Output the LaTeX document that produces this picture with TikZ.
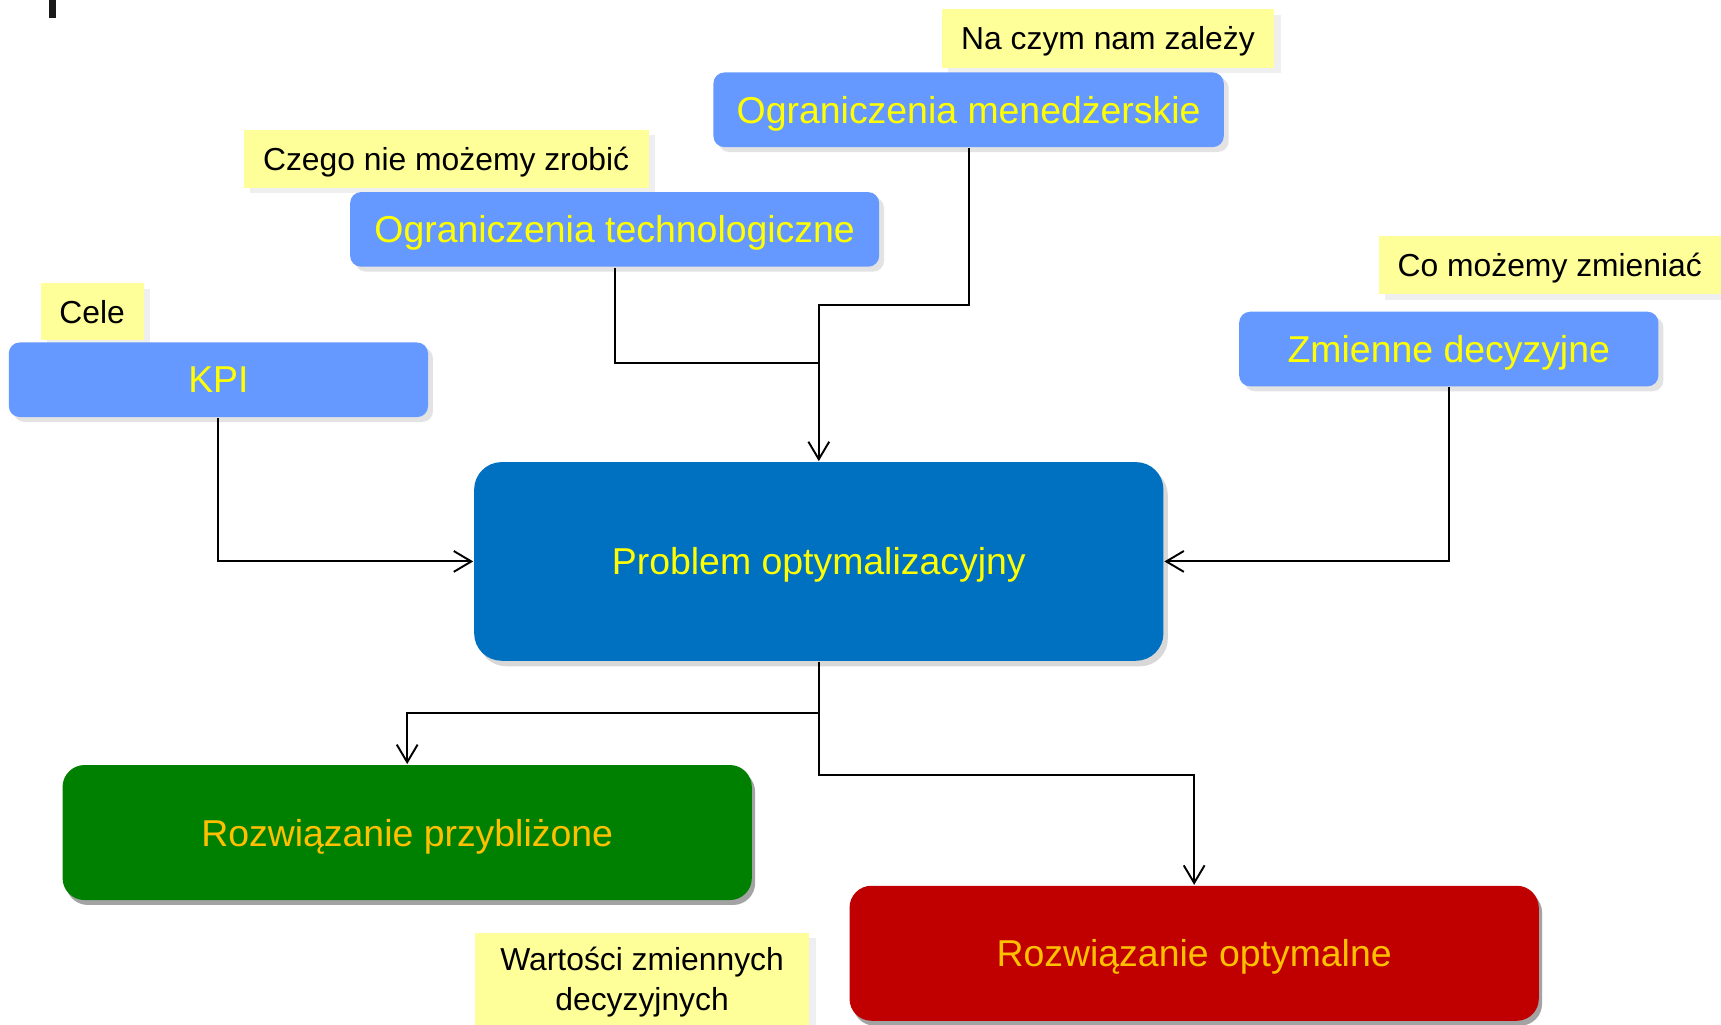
\documentclass[tikz,border=0pt]{standalone}
\usepackage{fontspec}
\setmainfont{Liberation Sans}
\usetikzlibrary{positioning, arrows.meta, shadows}

\definecolor{boxblue}{HTML}{6699FF}
\definecolor{probblue}{HTML}{0070C0}
\definecolor{okgreen}{HTML}{008000}
\definecolor{optred}{HTML}{C00000}
\definecolor{txtyellow}{HTML}{FFFF00}
\definecolor{txtorange}{HTML}{FFC000}
\definecolor{notebg}{HTML}{FFFF99}

\begin{document}
\begin{tikzpicture}[
  x=0.1mm, y=-0.1mm,
  font=\fontsize{9.7}{11.5}\selectfont,
  inbox/.style={rounded corners=1mm, fill=boxblue, text=txtyellow, minimum width=38.2mm, minimum height=6.8mm, inner sep=0pt, text depth=0pt,
    drop shadow={shadow xshift=0.45mm, shadow yshift=-0.45mm, opacity=0.22}},
  result/.style={rounded corners=2mm, text=txtorange, minimum width=62.8mm, minimum height=12.3mm, inner sep=0pt, text depth=0pt,
    drop shadow={shadow xshift=0.3mm, shadow yshift=-0.45mm, fill=black!45, opacity=0.8}},
  note/.style={fill=notebg, text=black, font=\fontsize{8.25}{10.3}\selectfont, inner sep=0pt, minimum height=5.3mm, align=center,
    drop shadow={shadow xshift=0.6mm, shadow yshift=-0.5mm, opacity=0.12}},
  arr/.style={-{Straight Barb[length=1.6mm, width=1.9mm]}},
  line width=0.5pt
]
\useasboundingbox (0,0) rectangle (1568,933);
\fill[white] (0,0) rectangle (1568,933);
\fill[black!90] (45,0) rectangle (51,16);

% Inputs
\node[note, text depth=0pt, minimum width=30.3mm] (zalezy) at (1009.5,35) {Na czym nam zależy};
\node[inbox, minimum width=46.5mm] (menedz) at (882.5,100) {Ograniczenia menedżerskie};

\node[note, text depth=0pt, minimum width=36.9mm] (zrobic) at (406.5,144.5) {Czego nie możemy zrobić};
\node[inbox, minimum width=48.2mm] (techno) at (560,209) {Ograniczenia technologiczne};

\node[note, minimum width=9.4mm, minimum height=5.2mm] (cele) at (84,284) {Cele};
\node[inbox] (KPI) at (199,346) {KPI};

\node[note, text depth=0pt, minimum width=31.2mm] (zmieniac) at (1412,241.5) {Co możemy zmieniać};
\node[inbox] (zmienne) at (1320,318) {Zmienne decyzyjne};

% Problem
\node[rounded corners=2.5mm, fill=probblue, text=txtyellow, minimum width=62.8mm, minimum height=18.1mm, inner sep=0pt, text depth=0pt,
  drop shadow={shadow xshift=0.4mm, shadow yshift=-0.5mm, opacity=0.3}] (problem) at (746,511.5) {Problem optymalizacyjny};

% Outputs
\node[result, fill=okgreen] (przybl) at (371,758.5) {Rozwiązanie przybliżone};
\node[result, fill=optred] (optym) at (1088,868.5) {Rozwiązanie optymalne};
\node[note, minimum width=30.4mm, minimum height=9mm] (wartosci) at (585,895) {Wartości zmiennych\\decyzyjnych};

% Connectors
\coordinate (join) at (746,331);
\draw (techno.south) |- (join);
\draw[arr] (menedz.south) -- ++(0,143) -| (problem.north);
\draw[arr] (KPI.south) |- (problem.west);
\draw[arr] (zmienne.south) |- (problem.east);
\draw[arr] (problem.south) -- ++(0,47) -| (przybl.north);
\draw[arr] (problem.south) -- ++(0,103) -| (optym.north);

\end{tikzpicture}
\end{document}
